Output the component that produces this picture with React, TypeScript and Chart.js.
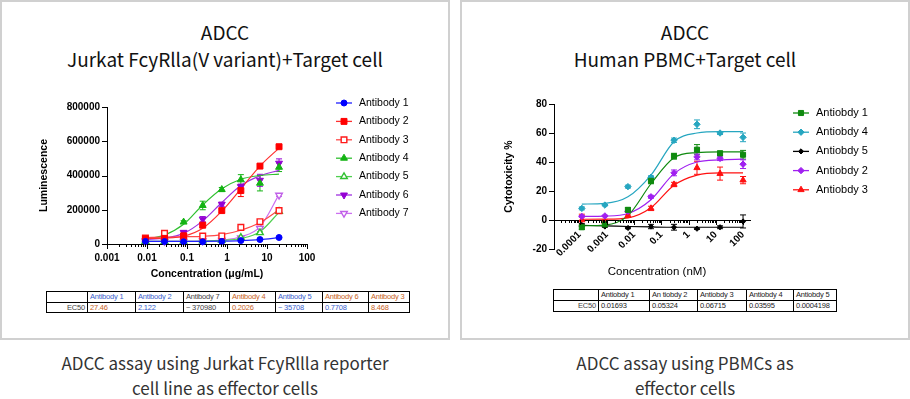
import React, { useEffect, useRef } from 'react';
import { Chart, registerables } from 'chart.js';
import { drawPoint } from 'chart.js/helpers';

Chart.register(...registerables);
Chart.defaults.font.family = 'Arial, "Liberation Sans", sans-serif';
Chart.defaults.color = '#000';

// ---------------- Left chart data (Jurkat reporter) ----------------
const LEFT_CONC = [0.00914, 0.0274, 0.0823, 0.247, 0.741, 2.22, 6.67, 20];
const LEFT_X_TICKS = [0.001, 0.01, 0.1, 1, 10, 100];
const LEFT_X_LABELS = ['0.001', '0.01', '0.1', '1', '10', '100'];
const LEFT_Y_TICKS = [0, 200000, 400000, 600000, 800000];
const LEFT_NAMES = ['Antibody 1', 'Antibody 2', 'Antibody 3', 'Antibody 4', 'Antibody 5', 'Antibody 6', 'Antibody 7'];

const L_AB1 = [15000, 14000, 13000, 13000, 15000, 20000, 26000, 38000];
const L_AB1_FIT = [15000, 15000, 15000, 15500, 17000, 20000, 26000, 37000];
const L_AB1_ERR = [3000, 0, 0, 0, 0, 3000, 5000, 5000];
const L_AB2 = [30000, 33000, 48000, 110000, 195000, 312000, 455000, 568000];
const L_AB2_FIT = [32000, 34000, 45000, 92000, 192000, 322000, 455000, 560000];
const L_AB2_ERR = [0, 0, 0, 15000, 12000, 35000, 12000, 10000];
const L_AB3 = [35000, 62000, 43000, 46000, 47000, 97000, 130000, 195000];
const L_AB3_FIT = [38000, 40000, 42000, 45000, 55000, 80000, 125000, 200000];
const L_AB3_ERR = [0, 5000, 0, 0, 0, 5000, 5000, 8000];
const L_AB4 = [22000, 35000, 128000, 225000, 318000, 375000, 355000, 448000];
const L_AB4_FIT = [27000, 52000, 115000, 228000, 322000, 378000, 400000, 408000];
const L_AB4_ERR = [0, 0, 8000, 25000, 12000, 30000, 45000, 25000];
const L_AB5 = [15000, 15000, 16000, 18000, 22000, 38000, 66000, 190000];
const L_AB5_FIT = [16000, 16000, 16000, 17000, 21000, 32000, 72000, 185000];
const L_AB5_ERR = [0, 0, 0, 0, 0, 3000, 5000, 8000];
const L_AB6 = [22000, 30000, 68000, 145000, 232000, 335000, 372000, 472000];
const L_AB6_FIT = [26000, 34000, 62000, 135000, 242000, 342000, 398000, 430000];
const L_AB6_ERR = [0, 0, 8000, 15000, 12000, 15000, 35000, 25000];
const L_AB7 = [16000, 16000, 16000, 19000, 22000, 36000, 92000, 285000];
const L_AB7_FIT = [16000, 16000, 16000, 17000, 23000, 42000, 100000, 288000];
const L_AB7_ERR = [0, 0, 0, 0, 0, 3000, 5000, 8000];

const LEFT_TABLE_HEADERS = ['Antibody 1', 'Antibody 2', 'Antibody 7', 'Antibody 4', 'Antibody 5', 'Antibody 6', 'Antibody 3'];
const LEFT_TABLE_VALUES = ['27.46', '2.122', '~ 370980', '0.2026', '~ 35708', '0.7708', '8.468'];

// ---------------- Right chart data (PBMC) ----------------
const RIGHT_CONC = [0.000121, 0.00085, 0.00595, 0.0417, 0.292, 2.04, 14.3, 100];
const RIGHT_X_TICKS = [0.0001, 0.001, 0.01, 0.1, 1, 10, 100];
const RIGHT_X_LABELS = ['0.0001', '0.001', '0.01', '0.1', '1', '10', '100'];
const RIGHT_Y_TICKS = [-20, 0, 20, 40, 60, 80];
const RIGHT_NAMES = ['Antiobdy 1', 'Antiobdy 4', 'Antiobdy 5', 'Antiobdy 2', 'Antiobdy 3'];

const R_AB1 = [-5, -3, 7, 27, 44, 48.5, 46, 45];
const R_AB1_FIT = [-4, -3.5, 3, 25, 43, 46.5, 47, 47];
const R_AB1_ERR = [1.5, 1, 1.5, 2, 2, 3.5, 1.5, 3];
const R_AB4 = [8, 10.3, 23, 29.5, 55, 66, 60, 57];
const R_AB4_FIT = [11, 11.5, 16, 31, 54, 60, 61, 61];
const R_AB4_ERR = [1, 0.5, 1, 1, 1.5, 3, 1, 3];
const R_AB5 = [-3.5, -4.5, -5.5, -4.5, -5, -6, -5, -1];
const R_AB5_FIT = [-3.7, -4, -4.5, -4.8, -5, -5, -5, -5];
const R_AB5_ERR = [1, 0.5, 0.5, 1.5, 2, 0.5, 1, 4.5];
const R_AB2 = [2.5, 2.8, 6, 16, 32.5, 43.5, 42.5, 38.5];
const R_AB2_FIT = [2.5, 2.7, 4.5, 14, 32, 40, 41.5, 42];
const R_AB2_ERR = [0.5, 0.5, 0.5, 1, 2, 2, 1.5, 3];
const R_AB3 = [0, -1, 3, 8, 24.5, 36, 32, 27.5];
const R_AB3_FIT = [0.5, 0.6, 1.5, 8.5, 24, 31, 32.5, 32.5];
const R_AB3_ERR = [4, 1, 0.5, 1.5, 1.5, 4.5, 4.5, 2.5];

const RIGHT_TABLE_HEADERS = ['Antiobdy 1', 'An tiobdy 2', 'Antiobdy 3', 'Antiobdy 4', 'Antiobdy 5'];
const RIGHT_TABLE_VALUES = ['0.01693', '0.05324', '0.06715', '0.03595', '0.0004198'];

// ---------------- styles ----------------
type Style = { color: string; line: string; pointStyle: string; radius: number; filled: boolean; rotation: number };

const LEFT_STYLES: Style[] = [
  { color: '#0000ff', line: '#2020ff', pointStyle: 'circle', radius: 3, filled: true, rotation: 0 },
  { color: '#ff0000', line: '#ff3030', pointStyle: 'rect', radius: 4.2, filled: true, rotation: 0 },
  { color: '#ff1a1a', line: '#ff4a4a', pointStyle: 'rect', radius: 4, filled: false, rotation: 0 },
  { color: '#13b313', line: '#30c030', pointStyle: 'triangle', radius: 4, filled: true, rotation: 0 },
  { color: '#30c030', line: '#50d050', pointStyle: 'triangle', radius: 3.8, filled: false, rotation: 0 },
  { color: '#9400d3', line: '#a030e0', pointStyle: 'triangle', radius: 4, filled: true, rotation: 180 },
  { color: '#c060e8', line: '#cc70f0', pointStyle: 'triangle', radius: 3.8, filled: false, rotation: 180 },
];
const LEFT_VALUES = [L_AB1, L_AB2, L_AB3, L_AB4, L_AB5, L_AB6, L_AB7];
const LEFT_FITS = [L_AB1_FIT, L_AB2_FIT, L_AB3_FIT, L_AB4_FIT, L_AB5_FIT, L_AB6_FIT, L_AB7_FIT];
const LEFT_ERRS = [L_AB1_ERR, L_AB2_ERR, L_AB3_ERR, L_AB4_ERR, L_AB5_ERR, L_AB6_ERR, L_AB7_ERR];

const RIGHT_STYLES: Style[] = [
  { color: '#0f8a0f', line: '#0f8a0f', pointStyle: 'rect', radius: 3.6, filled: true, rotation: 0 },
  { color: '#26a6c0', line: '#26a6c0', pointStyle: 'rectRot', radius: 3.2, filled: true, rotation: 0 },
  { color: '#000000', line: '#000000', pointStyle: 'rectRot', radius: 2.6, filled: true, rotation: 0 },
  { color: '#a020f0', line: '#a020f0', pointStyle: 'rectRot', radius: 3.2, filled: true, rotation: 0 },
  { color: '#ff1010', line: '#ff1010', pointStyle: 'triangle', radius: 3.6, filled: true, rotation: 0 },
];
const RIGHT_VALUES = [R_AB1, R_AB4, R_AB5, R_AB2, R_AB3];
const RIGHT_FITS = [R_AB1_FIT, R_AB4_FIT, R_AB5_FIT, R_AB2_FIT, R_AB3_FIT];
const RIGHT_ERRS = [R_AB1_ERR, R_AB4_ERR, R_AB5_ERR, R_AB2_ERR, R_AB3_ERR];

// ---------------- helpers ----------------
function logTicks(min: number, max: number, majors: number[]) {
  const out: any[] = [];
  for (let e = -6; e <= 3; e++) {
    for (let m = 1; m <= 9; m++) {
      const v = parseFloat((m * Math.pow(10, e)).toPrecision(6));
      if (v >= min * 0.9999 && v <= max * 1.0001) {
        out.push({ value: v, major: majors.some((t) => Math.abs(t - v) / t < 1e-6) });
      }
    }
  }
  return out;
}
function labelFor(v: number, ticks: number[], labels: string[]) {
  const i = ticks.findIndex((t) => Math.abs(t - v) / t < 1e-6);
  return i >= 0 ? labels[i] : '';
}

function buildDatasets(conc: number[], names: string[], styles: Style[], vals: number[][], fits: number[][], errs: number[][]) {
  const ds: any[] = [];
  names.forEach((name, i) => {
    const s = styles[i];
    ds.push({
      label: name,
      data: conc.map((x, k) => ({ x, y: vals[i][k] })),
      errors: errs[i],
      showLine: false,
      pointStyle: s.pointStyle,
      pointRadius: s.radius,
      pointRotation: s.rotation,
      pointBackgroundColor: s.filled ? s.color : '#ffffff',
      pointBorderColor: s.color,
      pointBorderWidth: s.filled ? 1 : 1.4,
      borderColor: s.color,
      backgroundColor: s.color,
      clip: false,
      order: 1,
    });
  });
  names.forEach((name, i) => {
    const s = styles[i];
    ds.push({
      label: name + ' fit',
      data: conc.map((x, k) => ({ x, y: fits[i][k] })),
      showLine: true,
      pointRadius: 0,
      borderColor: s.line,
      borderWidth: 1.2,
      cubicInterpolationMode: 'monotone',
      clip: false,
      order: 2,
    });
  });
  return ds;
}

const errorBarPlugin = {
  id: 'errorBars',
  beforeDatasetsDraw(chart: any) {
    const ctx = chart.ctx;
    const ys = chart.scales.y;
    chart.data.datasets.forEach((ds: any, di: number) => {
      if (!ds.errors) return;
      const meta = chart.getDatasetMeta(di);
      ctx.save();
      ctx.strokeStyle = ds.borderColor;
      ctx.lineWidth = 1;
      meta.data.forEach((pt: any, i: number) => {
        const e = ds.errors[i];
        if (!e) return;
        const v = ds.data[i].y;
        const yt = ys.getPixelForValue(v + e);
        const yb = ys.getPixelForValue(v - e);
        ctx.beginPath();
        ctx.moveTo(pt.x, yt); ctx.lineTo(pt.x, yb);
        ctx.moveTo(pt.x - 3, yt); ctx.lineTo(pt.x + 3, yt);
        ctx.moveTo(pt.x - 3, yb); ctx.lineTo(pt.x + 3, yb);
        ctx.stroke();
      });
      ctx.restore();
    });
  },
};

function tickPlugin(xAxisAtZero: boolean) {
  return {
    id: 'axisTicks',
    afterDraw(chart: any) {
      const ctx = chart.ctx;
      const xs = chart.scales.x;
      const ys = chart.scales.y;
      const ca = chart.chartArea;
      const axisY = xAxisAtZero ? ys.getPixelForValue(0) : ca.bottom;
      ctx.save();
      ctx.strokeStyle = '#000';
      ctx.lineWidth = 1;
      ctx.beginPath();
      xs.ticks.forEach((t: any) => {
        const px = Math.round(xs.getPixelForValue(t.value)) + 0.5;
        const len = t.major ? 5 : 3;
        ctx.moveTo(px, Math.round(axisY)); ctx.lineTo(px, Math.round(axisY) + len);
      });
      ys.ticks.forEach((t: any) => {
        const py = Math.round(ys.getPixelForValue(t.value)) + 0.5;
        ctx.moveTo(ca.left - 5, py); ctx.lineTo(ca.left, py);
      });
      ctx.stroke();
      ctx.restore();
    },
  };
}

function legendPlugin(names: string[], styles: Style[], x0: number, y0: number, dy: number, fontSize: number) {
  return {
    id: 'customLegend',
    afterDraw(chart: any) {
      const ctx = chart.ctx;
      names.forEach((name, i) => {
        const s = styles[i];
        const y = y0 + i * dy;
        ctx.save();
        ctx.strokeStyle = s.line;
        ctx.lineWidth = 1.3;
        ctx.beginPath(); ctx.moveTo(x0, y); ctx.lineTo(x0 + 16, y); ctx.stroke();
        ctx.fillStyle = s.filled ? s.color : '#ffffff';
        ctx.strokeStyle = s.color;
        ctx.lineWidth = s.filled ? 1 : 1.4;
        drawPoint(ctx, { pointStyle: s.pointStyle, radius: s.radius, rotation: s.rotation, borderWidth: s.filled ? 1 : 1.4 } as any, x0 + 8, y);
        ctx.fillStyle = '#000';
        ctx.font = `${fontSize}px Arial, "Liberation Sans", sans-serif`;
        ctx.textBaseline = 'middle';
        ctx.textAlign = 'left';
        ctx.fillText(name, x0 + 23, y);
        ctx.restore();
      });
    },
  };
}

function textPlugin(text: string, x: number, y: number, font: string) {
  return {
    id: 'extraText',
    afterDraw(chart: any) {
      const ctx = chart.ctx;
      ctx.save();
      ctx.fillStyle = '#000';
      ctx.font = font;
      ctx.textAlign = 'center';
      ctx.textBaseline = 'middle';
      ctx.fillText(text, x, y);
      ctx.restore();
    },
  };
}

const gridOpts = { display: true, drawOnChartArea: false, drawTicks: true, tickLength: 5, tickColor: 'rgba(0,0,0,0)' };
const borderOpts = { display: true, color: '#000', width: 1 };
const tickFont = { size: 10, weight: 'bold' as const };

function leftConfig(): any {
  return {
    type: 'scatter',
    data: { datasets: buildDatasets(LEFT_CONC, LEFT_NAMES, LEFT_STYLES, LEFT_VALUES, LEFT_FITS, LEFT_ERRS) },
    options: {
      responsive: false,
      animation: false,
      events: [],
      layout: { padding: { left: 0, top: 107, right: 142, bottom: 0 } },
      plugins: { legend: { display: false }, tooltip: { enabled: false } },
      scales: {
        x: {
          type: 'logarithmic', min: 0.001, max: 100, position: 'bottom',
          afterBuildTicks: (s: any) => { s.ticks = logTicks(0.001, 100, LEFT_X_TICKS); },
          afterFit: (s: any) => { s.height = 41; },
          grid: gridOpts, border: borderOpts,
          ticks: { autoSkip: false, maxRotation: 0, minRotation: 0, padding: 3, color: '#000', font: tickFont,
            callback: (v: number) => labelFor(v, LEFT_X_TICKS, LEFT_X_LABELS) },
          title: { display: true, text: 'Concentration (μg/mL)', color: '#000', font: { size: 10.5, weight: 'bold' }, padding: { top: 0, bottom: 5 } },
        },
        y: {
          type: 'linear', min: 0, max: 800000,
          afterBuildTicks: (s: any) => { s.ticks = LEFT_Y_TICKS.map((v) => ({ value: v })); },
          afterFit: (s: any) => { s.width = 107; },
          grid: gridOpts, border: borderOpts,
          ticks: { padding: 2, color: '#000', font: tickFont, callback: (v: number) => String(v) },
          title: { display: true, text: 'Luminescence', color: '#000', font: { size: 10.5, weight: 'bold' }, padding: { top: 38, bottom: 0 } },
        },
      },
    },
    plugins: [errorBarPlugin, tickPlugin(false), legendPlugin(LEFT_NAMES, LEFT_STYLES, 336, 103, 18.4, 10.5)],
  };
}

function rightConfig(): any {
  return {
    type: 'scatter',
    data: { datasets: buildDatasets(RIGHT_CONC, RIGHT_NAMES, RIGHT_STYLES, RIGHT_VALUES, RIGHT_FITS, RIGHT_ERRS) },
    options: {
      responsive: false,
      animation: false,
      events: [],
      layout: { padding: { left: 0, top: 104, right: 159, bottom: 36 } },
      plugins: { legend: { display: false }, tooltip: { enabled: false } },
      scales: {
        x: {
          type: 'logarithmic', min: 1.15e-5, max: 180, position: { y: 0 },
          afterBuildTicks: (s: any) => { s.ticks = logTicks(1.15e-5, 180, RIGHT_X_TICKS); },
          grid: gridOpts, border: borderOpts,
          ticks: { autoSkip: false, maxRotation: 45, minRotation: 45, padding: 4, color: '#000', font: tickFont,
            callback: (v: number) => labelFor(v, RIGHT_X_TICKS, RIGHT_X_LABELS) },
          title: { display: false },
        },
        y: {
          type: 'linear', min: -20, max: 80,
          afterBuildTicks: (s: any) => { s.ticks = RIGHT_Y_TICKS.map((v) => ({ value: v })); },
          afterFit: (s: any) => { s.width = 94; },
          grid: gridOpts, border: borderOpts,
          ticks: { padding: 2, color: '#000', font: tickFont, callback: (v: number) => String(v) },
          title: { display: true, text: 'Cytotoxicity %', color: '#000', font: { size: 10.5, weight: 'bold' }, padding: { top: 43, bottom: 0 } },
        },
      },
    },
    plugins: [
      errorBarPlugin,
      tickPlugin(true),
      legendPlugin(RIGHT_NAMES, RIGHT_STYLES, 333, 113, 19.2, 11),
      textPlugin('Concentration (nM)', 197, 272, '11.5px Arial, "Liberation Sans", sans-serif'),
    ],
  };
}

function ChartCanvas({ config, left, top, width, height }: any) {
  const ref = useRef<HTMLCanvasElement | null>(null);
  useEffect(() => {
    if (!ref.current) return;
    const chart = new Chart(ref.current, config());
    return () => chart.destroy();
  }, []);
  return (
    <canvas ref={ref} width={width} height={height}
      style={{ position: 'absolute', left, top, width, height }} />
  );
}

function Ec50Table({ left, top, widths, headers, values, headerColors, valueColors, rowH }: any) {
  const total = widths.reduce((a: number, b: number) => a + b, 0);
  const cell: any = { border: '1px solid #000', padding: '0 2px', lineHeight: `${rowH - 1}px`, height: rowH - 1, whiteSpace: 'nowrap', overflow: 'hidden', textAlign: 'left' };
  return (
    <table style={{ position: 'absolute', left, top, width: total, borderCollapse: 'collapse', tableLayout: 'fixed',
      border: '1.5px solid #000', fontFamily: 'Arial, "Liberation Sans", sans-serif', fontSize: 7.5, color: '#444', letterSpacing: -0.2 }}>
      <colgroup>{widths.map((w: number, i: number) => <col key={i} style={{ width: w }} />)}</colgroup>
      <tbody>
        <tr>
          <td style={cell}></td>
          {headers.map((h: string, i: number) => <td key={i} style={{ ...cell, color: headerColors[i] }}>{h}</td>)}
        </tr>
        <tr>
          <td style={{ ...cell, textAlign: 'right' }}>EC50</td>
          {values.map((v: string, i: number) => <td key={i} style={{ ...cell, color: valueColors[i] }}>{v}</td>)}
        </tr>
      </tbody>
    </table>
  );
}

const TITLE_FONT = '"Noto Sans CJK SC", "Noto Sans", sans-serif';

function Panel({ x, title1, title2, cap1, cap2 }: any) {
  const box: any = { position: 'absolute', left: x, top: 0, width: 450, height: 340, border: '2px solid #d0d0d0', boxSizing: 'border-box' };
  const t: any = { position: 'absolute', left: x, width: 450, textAlign: 'center', fontFamily: TITLE_FONT, fontSize: 19, lineHeight: '26px', color: '#111', whiteSpace: 'nowrap' };
  const c: any = { position: 'absolute', left: x, width: 450, textAlign: 'center', fontFamily: TITLE_FONT, fontSize: 17, lineHeight: '22px', color: '#333', whiteSpace: 'nowrap' };
  return (
    <>
      <div style={box} />
      <div style={{ ...t, top: 19 }}>{title1}</div>
      <div style={{ ...t, top: 46 }}>{title2}</div>
      <div style={{ ...c, top: 352 }}>{cap1}</div>
      <div style={{ ...c, top: 377 }}>{cap2}</div>
    </>
  );
}

const BLUE_T = '#3a5fcd';
const ORANGE_T = '#c8641e';
const DARK_T = '#444';

export default function App() {
  return (
    <div style={{ position: 'absolute', left: 0, top: 0, width: 910, height: 399, background: '#fff', overflow: 'hidden' }}>
      <Panel x={0} title1="ADCC" title2="Jurkat FcyRlla(V variant)+Target cell"
        cap1="ADCC assay using Jurkat FcyRllla reporter" cap2="cell line as effector cells" />
      <Panel x={460} title1="ADCC" title2="Human PBMC+Target cell"
        cap1="ADCC assay using PBMCs as" cap2="effector cells" />
      <ChartCanvas config={leftConfig} left={0} top={0} width={449} height={285} />
      <ChartCanvas config={rightConfig} left={460} top={0} width={449} height={285} />
      <Ec50Table left={46} top={291} widths={[41, 48, 48, 46, 46, 47, 46, 41]} rowH={10.5}
        headers={LEFT_TABLE_HEADERS} values={LEFT_TABLE_VALUES}
        headerColors={[BLUE_T, BLUE_T, DARK_T, ORANGE_T, BLUE_T, ORANGE_T, ORANGE_T]}
        valueColors={[ORANGE_T, BLUE_T, DARK_T, ORANGE_T, BLUE_T, BLUE_T, ORANGE_T]} />
      <Ec50Table left={553} top={289} widths={[45, 51, 48, 49, 47, 43]} rowH={11}
        headers={RIGHT_TABLE_HEADERS} values={RIGHT_TABLE_VALUES}
        headerColors={['#222', '#222', '#222', '#222', '#222']}
        valueColors={['#222', '#222', '#222', '#222', '#222']} />
    </div>
  );
}
